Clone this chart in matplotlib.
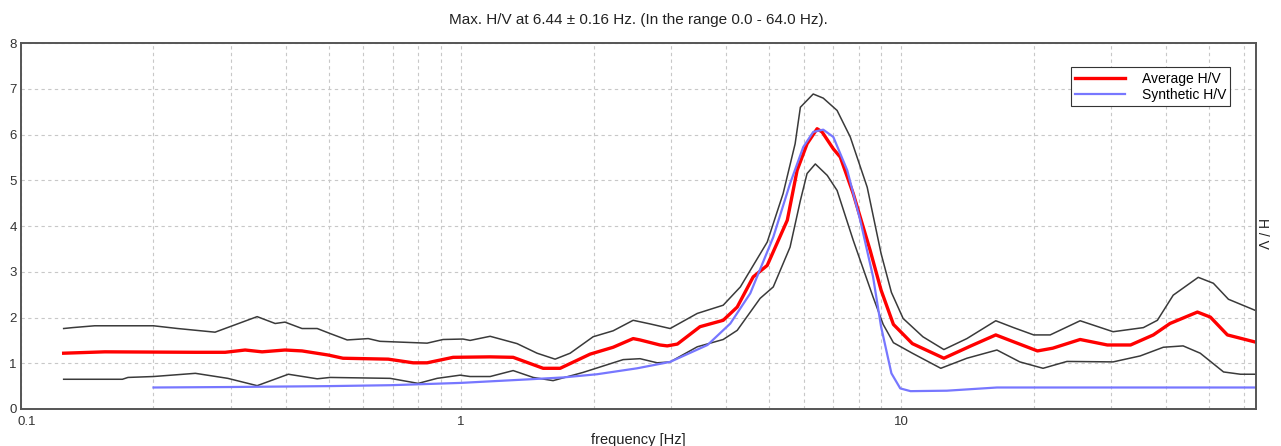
import numpy as np
import matplotlib
matplotlib.use("Agg")
import matplotlib.pyplot as plt
import matplotlib.transforms as mtransforms
from matplotlib.ticker import LogLocator, FixedLocator, FixedFormatter

plt.rcParams['font.family'] = ['Liberation Sans', 'DejaVu Sans']

# average H/V (red)
avg_f = [0.125, 0.155, 0.249, 0.291, 0.323, 0.353, 0.398, 0.435, 0.499, 0.539,
         0.683, 0.778, 0.837, 0.959, 1.164, 1.313, 1.536, 1.679, 1.964, 2.215,
         2.46, 2.55, 2.83, 2.94, 3.10, 3.49, 3.94, 4.24, 4.61, 4.96,
         5.51, 5.80, 6.11, 6.44, 6.61, 7.01, 7.27, 7.78, 8.50, 9.0,
         9.6, 10.6, 12.5, 14.4, 16.4, 18.0, 20.4, 22.1, 25.5, 29.4,
         33.2, 37.4, 40.8, 47.1, 50.4, 55.1, 64.0]
avg_v = [1.22, 1.25, 1.24, 1.24, 1.29, 1.25, 1.29, 1.27, 1.18, 1.11,
         1.09, 1.01, 1.01, 1.13, 1.14, 1.13, 0.89, 0.89, 1.20, 1.35,
         1.54, 1.51, 1.40, 1.38, 1.42, 1.80, 1.94, 2.23, 2.89, 3.14,
         4.13, 5.22, 5.80, 6.13, 6.06, 5.69, 5.51, 4.71, 3.47, 2.60,
         1.85, 1.43, 1.11, 1.38, 1.62, 1.47, 1.27, 1.33, 1.52, 1.40,
         1.40, 1.62, 1.87, 2.12, 2.01, 1.62, 1.46]

# upper bound (avg + std)
up_f = [0.125, 0.131, 0.147, 0.200, 0.227, 0.276, 0.344, 0.378, 0.398, 0.435,
        0.471, 0.504, 0.551, 0.615, 0.654, 0.837, 0.910, 1.01, 1.048, 1.164,
        1.34, 1.488, 1.635, 1.769, 1.995, 2.215, 2.46, 2.69, 2.985, 3.44,
        3.94, 4.31, 4.96, 5.39, 5.74, 5.90, 6.31, 6.65, 7.15, 7.66,
        8.37, 9.0, 9.5, 10.1, 11.2, 12.5, 14.1, 16.4, 18.0, 20.0,
        21.8, 25.5, 30.3, 35.5, 38.2, 41.5, 47.3, 51.2, 55.4, 64.0]
up_v = [1.76, 1.78, 1.82, 1.82, 1.76, 1.68, 2.02, 1.87, 1.90, 1.76,
        1.76, 1.65, 1.51, 1.54, 1.48, 1.44, 1.52, 1.53, 1.50, 1.59,
        1.43, 1.22, 1.09, 1.22, 1.58, 1.71, 1.94, 1.86, 1.76, 2.09,
        2.27, 2.67, 3.65, 4.71, 5.80, 6.60, 6.89, 6.80, 6.53, 5.95,
        4.85, 3.40, 2.55, 1.98, 1.58, 1.30, 1.54, 1.93, 1.78, 1.62,
        1.62, 1.93, 1.69, 1.78, 1.94, 2.49, 2.88, 2.75, 2.40, 2.15]

# lower bound (avg - std)
lo_f = [0.125, 0.170, 0.175, 0.200, 0.249, 0.295, 0.344, 0.405, 0.471, 0.504,
        0.690, 0.799, 0.882, 0.995, 1.048, 1.164, 1.313, 1.458, 1.618, 1.893,
        2.335, 2.55, 2.79, 2.985, 3.44, 3.94, 4.24, 4.78, 5.12, 5.59,
        5.90, 6.11, 6.38, 6.79, 7.15, 7.78, 8.63, 9.1, 9.6, 10.6,
        12.3, 14.1, 16.5, 18.6, 21.0, 23.8, 30.3, 34.9, 39.4, 43.7,
        47.8, 54.0, 59.0, 64.0]
lo_v = [0.65, 0.65, 0.69, 0.71, 0.78, 0.67, 0.51, 0.76, 0.66, 0.69,
        0.67, 0.56, 0.67, 0.74, 0.71, 0.71, 0.84, 0.69, 0.62, 0.80,
        1.08, 1.10, 1.01, 1.03, 1.36, 1.52, 1.72, 2.42, 2.67, 3.54,
        4.56, 5.15, 5.36, 5.11, 4.78, 3.69, 2.45, 1.85, 1.45, 1.22,
        0.89, 1.11, 1.29, 1.03, 0.89, 1.04, 1.03, 1.16, 1.35, 1.38,
        1.22, 0.81, 0.76, 0.76]

# synthetic H/V (blue)
syn_f = [0.200, 0.295, 0.499, 0.690, 0.995, 1.435, 1.705, 2.037, 2.512, 2.985,
         3.63, 4.09, 4.54, 5.12, 5.59, 5.99, 6.31, 6.65, 7.01, 7.54,
         8.07, 8.63, 9.0, 9.5, 9.95, 10.5, 12.7, 16.5, 64.0]
syn_v = [0.47, 0.48, 0.50, 0.52, 0.57, 0.65, 0.69, 0.76, 0.89, 1.03,
         1.40, 1.87, 2.53, 3.76, 4.93, 5.73, 6.06, 6.11, 5.95, 5.22,
         4.13, 2.89, 1.80, 0.78, 0.45, 0.39, 0.40, 0.47, 0.47]

fig = plt.figure(figsize=(12.81, 4.46), dpi=100)
ax = fig.add_axes([0.0164, 0.083, 0.9641, 0.820])

ax.plot(up_f, up_v, color='#3a3a3a', lw=1.1)
ax.plot(lo_f, lo_v, color='#3a3a3a', lw=1.1)
ax.plot(avg_f, avg_v, color='#ff0000', lw=2.4, label='Average H/V')
ax.plot(syn_f, syn_v, color='#7777ff', lw=1.6, label='Synthetic H/V')

ax.set_xscale('log')
ax.set_xlim(0.1, 64)
ax.set_ylim(0, 8)
ax.xaxis.set_major_locator(FixedLocator([0.1, 1, 10]))
ax.xaxis.set_major_formatter(FixedFormatter(['0.1', '1', '10']))
ax.xaxis.set_minor_locator(LogLocator(base=10, subs=np.arange(2, 10)))
ax.xaxis.set_minor_formatter(plt.NullFormatter())
ax.set_yticks(range(0, 9))

ax.grid(True, which='both', axis='x', color='#c8c8c8', ls=(0, (3, 3)), lw=0.8)
ax.grid(True, which='major', axis='y', color='#c8c8c8', ls=(0, (3, 3)), lw=0.8)
ax.tick_params(which='both', length=0, labelsize=9.5, colors='#333333')
ax.tick_params(axis='x', pad=5)
ax.tick_params(axis='y', pad=3)

# nudge "0.1" right so it clears the "0" of the y axis
lab01 = ax.get_xticklabels()[0]
lab01.set_transform(lab01.get_transform() +
                    mtransforms.ScaledTranslation(4 / 72, 0, fig.dpi_scale_trans))

for s in ax.spines.values():
    s.set_color('#555555')
    s.set_linewidth(1.4)

ax.set_title('Max. H/V at 6.44 \u00b1 0.16 Hz. (In the range 0.0 - 64.0 Hz).',
             fontsize=11, color='#222222', pad=14)
ax.set_xlabel('frequency [Hz]', fontsize=10.5, color='#222222', labelpad=4)
ax.text(1.005, 0.48, 'H / V', transform=ax.transAxes, rotation=270,
        ha='center', va='center', fontsize=10, color='#222222')

leg = ax.legend(loc='upper right', bbox_to_anchor=(0.979, 0.934), fontsize=10,
                fancybox=False, framealpha=1, edgecolor='#333333',
                handlelength=3.6, handletextpad=1.2, borderpad=0.3,
                labelspacing=0.15, borderaxespad=0)
leg.get_frame().set_linewidth(0.8)

fig.savefig('out.png', dpi=100)
